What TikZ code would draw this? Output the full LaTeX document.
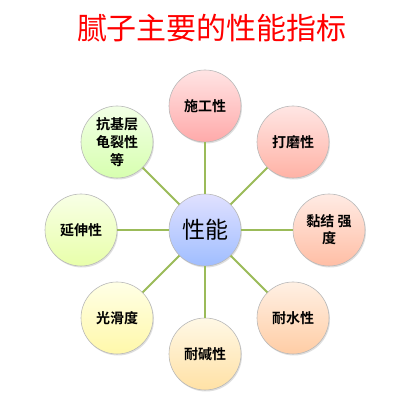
\documentclass[tikz,border=0pt]{standalone}
\usepackage{fontspec}
\newfontfamily\cjk{Noto Sans CJK SC}
\newfontfamily\cjkb{Noto Sans CJK SC Bold}
\usetikzlibrary{shadows}
\definecolor{linkgreen}{HTML}{9BBB59}
\definecolor{titlered}{HTML}{FF0000}
\begin{document}
\begin{tikzpicture}[x=1pt,y=-1pt,
  bubble/.style={circle,minimum size=72pt,inner sep=0pt,draw=gray!55,line width=0.6pt,
    drop shadow={shadow xshift=1pt,shadow yshift=-1.5pt,opacity=0.25},
    align=center,font=\cjkb\fontsize{14}{17}\selectfont,text=black},
  link/.style={draw=linkgreen,line width=2pt}]
\useasboundingbox (0,0) rectangle (413,406);
\fill[white] (0,0) rectangle (413,406);
\node[font=\cjk\fontsize{30}{32}\selectfont,text=titlered] (title) at (212,28) {腻子主要的性能指标};
\node[bubble,top color=blue!12!white,bottom color={rgb,255:red,160;green,190;blue,255},font=\cjk\fontsize{23}{25}\selectfont] (c) at (205,230) {性能};
\node[bubble,top color={rgb,255:red,255;green,228;blue,228},bottom color={rgb,255:red,255;green,170;blue,170}] (n1) at (205,106) {施工性};
\node[bubble,top color={rgb,255:red,255;green,230;blue,228},bottom color={rgb,255:red,255;green,178;blue,165}] (n2) at (293,142) {打磨性};
\node[bubble,top color={rgb,255:red,255;green,235;blue,228},bottom color={rgb,255:red,255;green,190;blue,165}] (n3) at (329,230) {黏结 强\\度};
\node[bubble,top color={rgb,255:red,255;green,240;blue,228},bottom color={rgb,255:red,255;green,205;blue,165}] (n4) at (293,318) {耐水性};
\node[bubble,top color={rgb,255:red,255;green,248;blue,230},bottom color={rgb,255:red,255;green,225;blue,165}] (n5) at (205,354) {耐碱性};
\node[bubble,top color={rgb,255:red,255;green,255;blue,230},bottom color={rgb,255:red,255;green,248;blue,170}] (n6) at (117,318) {光滑度};
\node[bubble,top color={rgb,255:red,248;green,255;blue,230},bottom color={rgb,255:red,232;green,255;blue,170}] (n7) at (81,230) {延伸性};
\node[bubble,top color={rgb,255:red,242;green,255;blue,230},bottom color={rgb,255:red,215;green,255;blue,175},font=\cjkb\fontsize{14}{18}\selectfont] (n8) at (117,142) {抗基层\\龟裂性\\等};
\foreach \n in {n1,n2,n3,n4,n5,n6,n7,n8} {\draw[link] (c) -- (\n);}
\end{tikzpicture}
\end{document}
